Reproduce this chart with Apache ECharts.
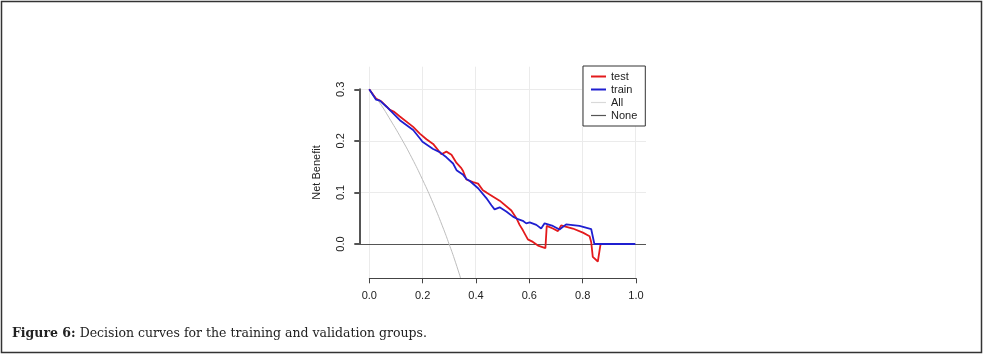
<!DOCTYPE html>
<html>
<head>
<meta charset="utf-8">
<script src="https://cdn.jsdelivr.net/npm/echarts@6/dist/echarts.min.js"></script>
<style>
  html, body { margin: 0; padding: 0; background: #fff; }
  #chart { width: 984px; height: 358px; }
</style>
</head>
<body>
<div id="chart"></div>
<script>
// decision curve values
const testThreshold = [0, 0.025, 0.046, 0.078, 0.094, 0.115, 0.165, 0.19, 0.215, 0.24, 0.271, 0.29, 0.309, 0.328, 0.346, 0.353, 0.365, 0.39, 0.409, 0.427, 0.44, 0.49, 0.534, 0.553, 0.565, 0.577, 0.596, 0.615, 0.634, 0.662, 0.667, 0.69, 0.709, 0.721, 0.734, 0.765, 0.803, 0.828, 0.834, 0.84, 0.859, 0.868, 0.87]
const testBenefit = [0.3, 0.282, 0.276, 0.26, 0.256, 0.247, 0.227, 0.214, 0.203, 0.194, 0.174, 0.179, 0.173, 0.157, 0.147, 0.141, 0.125, 0.12, 0.117, 0.104, 0.1, 0.084, 0.065, 0.05, 0.037, 0.027, 0.009, 0.004, -0.003, -0.008, 0.035, 0.03, 0.025, 0.036, 0.034, 0.03, 0.022, 0.015, 0.004, -0.025, -0.034, -0.004, 0]

const trainThreshold = [0, 0.025, 0.04, 0.065, 0.09, 0.115, 0.165, 0.19, 0.2, 0.24, 0.265, 0.29, 0.315, 0.328, 0.353, 0.365, 0.378, 0.409, 0.44, 0.459, 0.471, 0.49, 0.515, 0.54, 0.559, 0.577, 0.59, 0.603, 0.628, 0.646, 0.659, 0.69, 0.715, 0.74, 0.79, 0.834, 0.846, 1.0]
const trainBenefit = [0.3, 0.28, 0.278, 0.266, 0.253, 0.24, 0.221, 0.205, 0.198, 0.184, 0.178, 0.168, 0.156, 0.143, 0.134, 0.126, 0.122, 0.108, 0.089, 0.075, 0.067, 0.071, 0.063, 0.053, 0.048, 0.045, 0.04, 0.042, 0.037, 0.03, 0.04, 0.035, 0.028, 0.038, 0.035, 0.029, 0, 0]

const allThreshold = [0, 0.04, 0.08, 0.12, 0.16, 0.2, 0.24, 0.28, 0.3, 0.32, 0.345]
const allBenefit = [0.3, 0.273, 0.24, 0.205, 0.167, 0.125, 0.079, 0.028, 0, -0.029, -0.069]

const xTicks = [0, 0.2, 0.4, 0.6, 0.8, 1.0]
const yTicks = [0, 0.1, 0.2, 0.3]

function pairs(xs, ys) {
    return xs.map((x, i) => [x, ys[i]])
}

let myChart = echarts.init(document.getElementById('chart'))
let labelFont = { color: '#222', fontSize: 11, fontFamily: 'Liberation Sans, Arial, sans-serif' }

let gridLines = []
xTicks.forEach(v => gridLines.push({ xAxis: v }))
yTicks.forEach(v => gridLines.push({ yAxis: v }))

let thickIcon = 'path://M0,0 L15,0 L15,2 L0,2 Z'
let thinIcon = 'path://M0,0 L15,0 L15,1.2 L0,1.2 Z'

let option = {
    animation: false,
    backgroundColor: '#fff',
    graphic: [
        {
            type: 'rect',
            shape: { x: 1.5, y: 1.5, width: 980, height: 351 },
            style: { fill: null, stroke: '#333', lineWidth: 1.5 },
            silent: true
        },
        {
            type: 'text',
            left: 12,
            top: 327,
            style: {
                text: '{b|Figure 6:} Decision curves for the training and validation groups.',
                font: '12.5px "DejaVu Serif", serif',
                fill: '#222',
                rich: {
                    b: { fontWeight: 'bold', fontFamily: 'DejaVu Serif', fontSize: 12.5, fill: '#222' }
                }
            }
        }
    ],
    // grid 0: whole plot region, grid 1: axes that only span the ticks
    grid: [
        { left: 358.6, top: 66.7, width: 287.4, height: 211.6 },
        { left: 369.3, top: 89.3, width: 266.7, height: 154.7 }
    ],
    legend: {
        orient: 'vertical',
        left: 583,
        top: 66,
        z: 20,
        data: [
            { name: 'test', icon: thickIcon },
            { name: 'train', icon: thickIcon },
            { name: 'All', icon: thinIcon },
            { name: 'None', icon: thinIcon }
        ],
        itemWidth: 15,
        itemHeight: 10,
        itemGap: 2,
        padding: [5, 8, 5, 8],
        backgroundColor: '#fff',
        borderColor: '#333',
        borderWidth: 1,
        borderRadius: 0,
        textStyle: labelFont
    },
    xAxis: [
        { gridIndex: 0, type: 'value', min: -0.04, max: 1.04, show: false },
        {
            gridIndex: 1, type: 'value', min: 0, max: 1, interval: 0.2, position: 'bottom', offset: 34.3, z: 10, zlevel: 1,
            axisLine: { show: true, onZero: false, lineStyle: { color: '#444', width: 1 } },
            axisTick: { show: true, length: 5, lineStyle: { color: '#444' } },
            axisLabel: Object.assign({ margin: 12, formatter: v => v.toFixed(1) }, labelFont),
            splitLine: { show: false }
        }
    ],
    yAxis: [
        {
            gridIndex: 0, type: 'value', min: -0.0665, max: 0.3436,
            name: 'Net Benefit', nameLocation: 'middle', nameGap: 36, nameRotate: 90,
            nameTextStyle: labelFont,
            axisLine: { show: false }, axisTick: { show: false }, axisLabel: { show: false }, splitLine: { show: false }
        },
        {
            gridIndex: 1, type: 'value', min: 0, max: 0.3, interval: 0.1, position: 'left', offset: 10, z: 10, zlevel: 1,
            axisLine: { show: true, onZero: false, lineStyle: { color: '#555', width: 2 } },
            axisTick: { show: true, length: 5, lineStyle: { color: '#555', width: 2 } },
            axisLabel: Object.assign({ margin: 13, rotate: 90, formatter: v => v.toFixed(1) }, labelFont),
            splitLine: { show: false }
        }
    ],
    series: [
        {
            name: 'grid', type: 'line', xAxisIndex: 0, yAxisIndex: 0, data: [], silent: true, z: 0,
            markLine: {
                silent: true, symbol: 'none', label: { show: false }, z: 0,
                lineStyle: { color: '#ebebeb', width: 1, type: 'solid' },
                data: gridLines
            }
        },
        {
            name: 'All', type: 'line', xAxisIndex: 0, yAxisIndex: 0, symbol: 'none', smooth: true, z: 3,
            color: '#d9d9d9', lineStyle: { width: 1, color: '#bdbdbd' },
            data: pairs(allThreshold, allBenefit)
        },
        {
            name: 'None', type: 'line', xAxisIndex: 0, yAxisIndex: 0, symbol: 'none', z: 3,
            color: '#555', lineStyle: { width: 1, color: '#555' }, data: [],
            markLine: {
                silent: true, symbol: 'none', label: { show: false }, z: 3,
                lineStyle: { color: '#555', width: 1, type: 'solid' },
                data: [{ yAxis: 0 }]
            }
        },
        {
            name: 'test', type: 'line', xAxisIndex: 0, yAxisIndex: 0, symbol: 'none', z: 5,
            color: '#e31a1c', lineStyle: { width: 1.8, color: '#e31a1c' },
            data: pairs(testThreshold, testBenefit)
        },
        {
            name: 'train', type: 'line', xAxisIndex: 0, yAxisIndex: 0, symbol: 'none', z: 6,
            color: '#1f1fd0', lineStyle: { width: 1.8, color: '#1f1fd0' },
            data: pairs(trainThreshold, trainBenefit)
        },
        { name: 'axes', type: 'line', xAxisIndex: 1, yAxisIndex: 1, data: [], silent: true }
    ]
}
myChart.setOption(option)
window.addEventListener('resize', function() {
    myChart.resize()
})
</script>
</body>
</html>
